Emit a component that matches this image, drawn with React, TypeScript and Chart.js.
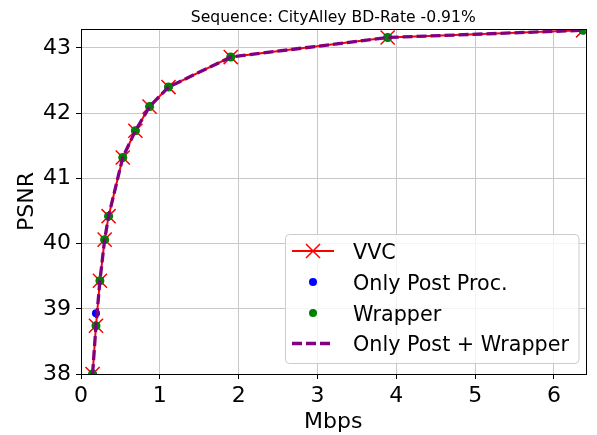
import React, { useEffect, useRef } from "react";
import { Chart, registerables } from "chart.js";

Chart.register(...registerables);

const titleText = "Sequence: CityAlley BD-Rate -0.91%";
const xLabel = "Mbps";
const yLabel = "PSNR";

const vvcX = [0.147, 0.19, 0.24, 0.3, 0.35, 0.53, 0.69, 0.87, 1.11, 1.9, 3.89, 6.37];
const vvcY = [38.0, 38.74, 39.43, 40.06, 40.42, 41.32, 41.73, 42.1, 42.4, 42.86, 43.16, 43.27];

const postX = [0.147, 0.19, 0.24, 0.3, 0.35, 0.53, 0.69, 0.87, 1.11, 1.9, 3.89, 6.37];
const postY = [38.0, 38.93, 39.43, 40.06, 40.42, 41.32, 41.73, 42.1, 42.4, 42.86, 43.16, 43.27];

const wrapX = [0.147, 0.19, 0.24, 0.3, 0.35, 0.53, 0.69, 0.87, 1.11, 1.9, 3.89, 6.37];
const wrapY = [38.0, 38.74, 39.43, 40.06, 40.42, 41.32, 41.73, 42.1, 42.4, 42.86, 43.16, 43.27];

const bothX = [0.147, 0.19, 0.24, 0.3, 0.35, 0.53, 0.69, 0.87, 1.11, 1.9, 3.89, 6.37];
const bothY = [38.0, 38.74, 39.43, 40.06, 40.42, 41.32, 41.73, 42.1, 42.4, 42.86, 43.16, 43.27];

const legendLabels = ["VVC", "Only Post Proc.", "Wrapper", "Only Post + Wrapper"];

const xMin = 0;
const xMax = 6.4;
const yMin = 38;
const yMax = 43.29;

const FONT = "'DejaVu Sans', sans-serif";

const toPts = (xs: number[], ys: number[]) => xs.map((x, i) => ({ x, y: ys[i] }));

const decorPlugin = {
  id: "decor",
  afterDraw(chart: any) {
    const ctx = chart.ctx as CanvasRenderingContext2D;
    const a = chart.chartArea;
    ctx.save();
    // spines
    ctx.strokeStyle = "#000";
    ctx.lineWidth = 1;
    ctx.strokeRect(Math.round(a.left) + 0.5, Math.round(a.top) + 0.5, Math.round(a.right - a.left), Math.round(a.bottom - a.top));

    // title
    ctx.fillStyle = "#000";
    ctx.font = `15.6px ${FONT}`;
    ctx.textAlign = "center";
    ctx.textBaseline = "alphabetic";
    ctx.fillText(titleText, (a.left + a.right) / 2, 22);

    // axis labels
    ctx.font = `22px ${FONT}`;
    ctx.fillText(xLabel, (a.left + a.right) / 2, 428);
    ctx.save();
    ctx.translate(33, (a.top + a.bottom) / 2);
    ctx.rotate(-Math.PI / 2);
    ctx.fillText(yLabel, 0, 0);
    ctx.restore();

    // legend
    const bx = 285, by = 234, bw = 293.5, bh = 129;
    ctx.beginPath();
    (ctx as any).roundRect(bx + 0.5, by + 0.5, bw, bh, 4);
    ctx.fillStyle = "rgba(255,255,255,0.8)";
    ctx.fill();
    ctx.strokeStyle = "#cccccc";
    ctx.lineWidth = 1;
    ctx.stroke();

    const rows = [251, 282, 313, 343.5];
    const hx0 = 292, hx1 = 334, hc = 313;
    // VVC
    ctx.strokeStyle = "red";
    ctx.lineWidth = 2;
    ctx.beginPath();
    ctx.moveTo(hx0, rows[0]);
    ctx.lineTo(hx1, rows[0]);
    ctx.stroke();
    ctx.lineWidth = 1.5;
    ctx.beginPath();
    ctx.moveTo(hc - 7, rows[0] - 7);
    ctx.lineTo(hc + 7, rows[0] + 7);
    ctx.moveTo(hc - 7, rows[0] + 7);
    ctx.lineTo(hc + 7, rows[0] - 7);
    ctx.stroke();
    // blue
    ctx.fillStyle = "blue";
    ctx.beginPath();
    ctx.arc(hc, rows[1], 4, 0, Math.PI * 2);
    ctx.fill();
    // green
    ctx.fillStyle = "green";
    ctx.beginPath();
    ctx.arc(hc, rows[2], 4, 0, Math.PI * 2);
    ctx.fill();
    // purple dashed
    ctx.strokeStyle = "purple";
    ctx.lineWidth = 3.3;
    ctx.setLineDash([10, 4]);
    ctx.beginPath();
    ctx.moveTo(hx0, rows[3]);
    ctx.lineTo(hx1, rows[3]);
    ctx.stroke();
    ctx.setLineDash([]);

    ctx.fillStyle = "#000";
    ctx.font = `20.7px ${FONT}`;
    ctx.textAlign = "left";
    ctx.textBaseline = "alphabetic";
    legendLabels.forEach((t, i) => ctx.fillText(t, 353, rows[i] + 7.5));
    ctx.restore();
  },
};

export default function App() {
  const ref = useRef<HTMLCanvasElement>(null);
  useEffect(() => {
    document.body.style.margin = "0";
    const chart = new Chart(ref.current!, {
      type: "scatter",
      data: {
        datasets: [
          {
            label: legendLabels[0],
            data: toPts(vvcX, vvcY),
            showLine: true,
            borderColor: "red",
            backgroundColor: "red",
            borderWidth: 2,
            pointStyle: "crossRot",
            pointRadius: 10,
            pointBorderWidth: 1.5,
            pointBorderColor: "red",
            order: 4,
            clip: 0,
          } as any,
          {
            label: legendLabels[1],
            data: toPts(postX, postY),
            showLine: false,
            backgroundColor: "blue",
            borderColor: "blue",
            pointRadius: 4,
            pointBorderWidth: 0,
            order: 3,
            clip: 0,
          },
          {
            label: legendLabels[2],
            data: toPts(wrapX, wrapY),
            showLine: false,
            backgroundColor: "green",
            borderColor: "green",
            pointRadius: 4.5,
            pointBorderWidth: 0,
            order: 2,
            clip: 0,
          },
          {
            label: legendLabels[3],
            data: toPts(bothX, bothY),
            showLine: true,
            borderColor: "purple",
            borderWidth: 3.3,
            borderDash: [10, 4],
            pointRadius: 0,
            order: 1,
            clip: 0,
          },
        ],
      },
      options: {
        animation: false,
        responsive: false,
        layout: { padding: { left: 0, top: 29, right: 7, bottom: 0 } },
        plugins: {
          legend: { display: false },
          title: { display: false },
          tooltip: { enabled: false },
        },
        scales: {
          x: {
            type: "linear",
            min: xMin,
            max: xMax,
            afterFit: (s: any) => {
              s.height = 61;
            },
            ticks: {
              stepSize: 1,
              includeBounds: false,
              color: "#000",
              font: { family: FONT, size: 22 },
              padding: 4,
              maxRotation: 0,
            },
            grid: { color: "#c8c8c8", lineWidth: 1, tickColor: "#000", tickLength: 5 },
            border: { color: "#000", width: 1 },
          },
          y: {
            type: "linear",
            min: yMin,
            max: yMax,
            afterFit: (s: any) => {
              s.width = 81;
            },
            ticks: {
              stepSize: 1,
              includeBounds: false,
              color: "#000",
              font: { family: FONT, size: 22 },
              padding: 5,
            },
            grid: { color: "#c8c8c8", lineWidth: 1, tickColor: "#000", tickLength: 5 },
            border: { color: "#000", width: 1 },
          },
        },
      },
      plugins: [decorPlugin],
    } as any);
    return () => chart.destroy();
  }, []);
  return (
    <div style={{ width: 597, height: 435 }}>
      <canvas ref={ref} width={597} height={435} style={{ display: "block" }} />
    </div>
  );
}
